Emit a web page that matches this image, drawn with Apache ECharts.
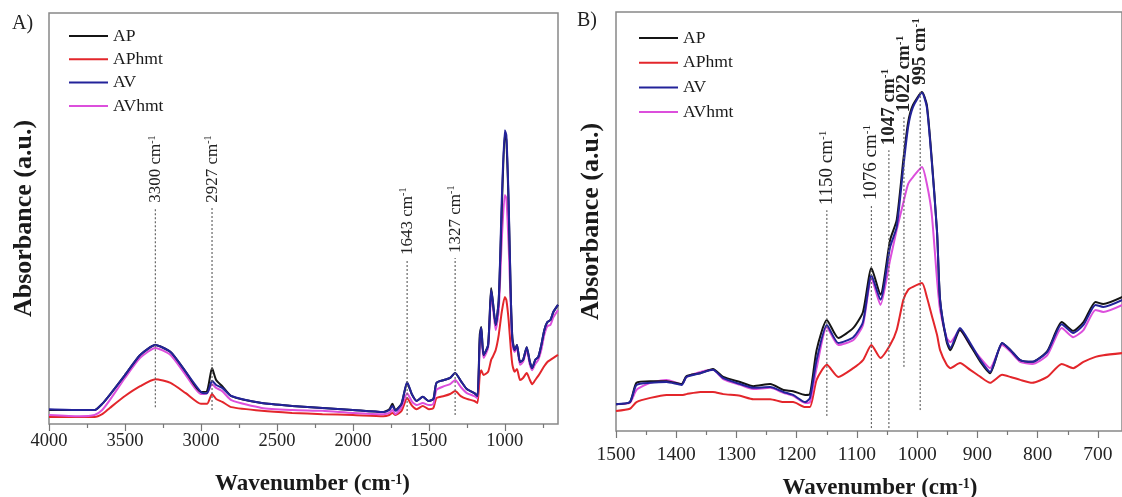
<!DOCTYPE html>
<html>
<head>
<meta charset="utf-8">
<title>FTIR spectra</title>
<script src="https://cdn.jsdelivr.net/npm/echarts@6.0.0/dist/echarts.min.js"></script>
<style>
  html, body { margin: 0; padding: 0; background: #fff; }
  #chart { width: 1122px; height: 497px; }
</style>
</head>
<body>
<div id="chart"></div>
<script>
const seriesNames = ['AP', 'APhmt', 'AV', 'AVhmt']

// panel A: full range
const leftWavenumber = [
  4000, 3800, 3700, 3650, 3600, 3500, 3400, 3300, 3200, 3100,
  3000, 2960, 2927, 2900, 2860, 2800, 2600, 2400, 2200, 2000,
  1800, 1760, 1740, 1720, 1680, 1643, 1610, 1580, 1540, 1500,
  1470, 1450, 1400, 1360, 1327, 1290, 1250, 1200, 1180, 1165,
  1155, 1140, 1110, 1090, 1080, 1060, 1040, 1020, 1000, 990,
  975, 960, 950, 935, 920, 900, 880, 856, 835, 820,
  800, 780, 760, 740, 720, 700, 680, 650
]
const leftAP = [
  .034, .034, .034, .049, .071, .119, .168, .192, .175, .127,
  .078, .080, .136, .107, .092, .068, .051, .044, .039, .034,
  .029, .036, .049, .034, .049, .100, .071, .056, .066, .056,
  .061, .100, .107, .112, .124, .105, .085, .075, .068, .217,
  .236, .168, .192, .331, .302, .241, .302, .521, .706, .691,
  .533, .302, .209, .180, .192, .151, .156, .187, .151, .136,
  .156, .163, .192, .229, .248, .253, .273, .290
]
const leftAPhmt = [
  .017, .017, .017, .024, .039, .068, .092, .109, .100, .075,
  .049, .049, .073, .061, .054, .041, .032, .027, .024, .022,
  .019, .022, .027, .022, .032, .063, .044, .036, .044, .036,
  .039, .063, .068, .073, .080, .068, .061, .056, .051, .119,
  .131, .119, .127, .156, .163, .180, .217, .273, .309, .302,
  .253, .180, .144, .127, .134, .107, .112, .124, .107, .097,
  .107, .117, .129, .141, .151, .156, .161, .168
]
const leftAV = [
  .036, .034, .034, .049, .071, .119, .168, .192, .175, .127,
  .078, .075, .105, .095, .088, .068, .051, .044, .039, .034,
  .029, .034, .044, .032, .049, .102, .071, .056, .066, .056,
  .061, .100, .107, .112, .124, .105, .085, .075, .068, .204,
  .234, .168, .192, .326, .302, .241, .302, .545, .715, .703,
  .545, .302, .204, .180, .192, .151, .156, .187, .151, .136,
  .156, .163, .192, .229, .248, .253, .273, .290
]
const leftAVhmt = [
  .022, .019, .022, .034, .058, .112, .161, .185, .168, .119,
  .073, .075, .097, .088, .080, .058, .039, .034, .032, .027,
  .024, .027, .034, .024, .041, .075, .054, .046, .051, .046,
  .049, .083, .092, .097, .107, .090, .075, .068, .063, .192,
  .221, .161, .185, .314, .290, .229, .277, .448, .557, .550,
  .436, .277, .192, .175, .185, .144, .151, .180, .144, .131,
  .146, .156, .180, .217, .238, .241, .260, .277
]

// panel B: fingerprint region
const rightWavenumber = [
  1500, 1477, 1466, 1443, 1416, 1391, 1383, 1360, 1339, 1322,
  1294, 1272, 1244, 1222, 1206, 1186, 1178, 1167, 1150, 1131,
  1106, 1090, 1076, 1061, 1045, 1034, 1023, 1015, 1007, 992,
  984, 976, 967, 962, 951, 945, 929, 912, 895, 879,
  859, 845, 829, 809, 784, 760, 741, 724, 704, 691,
  659
]
const rightAP = [
  .064, .069, .115, .119, .119, .112, .131, .138, .148, .129,
  .117, .107, .112, .098, .095, .086, .088, .193, .265, .222,
  .246, .284, .389, .325, .456, .504, .647, .737, .778, .809,
  .778, .652, .475, .313, .212, .193, .241, .205, .165, .138,
  .210, .193, .169, .165, .191, .260, .239, .260, .308, .303,
  .320
]
const rightAPhmt = [
  .048, .053, .069, .079, .086, .086, .088, .093, .093, .088,
  .084, .076, .076, .069, .069, .057, .057, .122, .158, .129,
  .150, .169, .205, .174, .205, .241, .313, .337, .344, .353,
  .320, .277, .229, .193, .158, .150, .162, .146, .129, .115,
  .134, .129, .122, .115, .129, .160, .150, .165, .177, .181,
  .186
]
const rightAV = [
  .064, .069, .110, .115, .117, .110, .129, .138, .146, .126,
  .112, .103, .105, .093, .086, .069, .079, .169, .253, .210,
  .224, .260, .372, .313, .439, .487, .630, .726, .773, .807,
  .773, .647, .473, .313, .217, .198, .246, .210, .169, .141,
  .210, .193, .169, .165, .189, .255, .234, .253, .301, .296,
  .313
]
const rightAVhmt = [
  .064, .067, .098, .115, .122, .112, .129, .141, .146, .124,
  .110, .100, .103, .091, .084, .067, .069, .150, .248, .205,
  .217, .253, .365, .301, .408, .480, .545, .590, .606, .630,
  .590, .520, .360, .289, .222, .212, .241, .205, .174, .150,
  .205, .189, .165, .160, .181, .246, .224, .241, .289, .284,
  .301
]

// peak markers: [wavenumber, bottom, top]
const leftPeaks = [[3300, .041, .526], [2927, .034, .526], [1643, .022, .399], [1327, .022, .404]]
const leftPeakLabels = ['3300', '2927', '1643', '1327']
const rightPeaks = [[1150, .036, .527], [1076, .007, .539], [1047, .007, .670], [1022, .153, .749], [995, .050, .814]]
const rightPeakLabels = ['1150', '1076', '1047', '1022', '995']
const rightPeakBold = [false, false, true, true, true]

// tick labels
const leftTicks = [4000, 3500, 3000, 2500, 2000, 1500, 1000]
const leftMinorTicks = [3750, 3250, 2750, 2250, 1750, 1250, 750]
const rightTicks = [1500, 1400, 1300, 1200, 1100, 1000, 900, 800, 700]
const rightMinorTicks = [1450, 1350, 1250, 1150, 1050, 950, 850, 750]

const colors = ['#151515', '#e3262b', '#23239a', '#dc4fdc']
const zOrder = [4, 2, 5, 3]
const serif = '"Liberation Serif", "Times New Roman", serif'

function zip(xs, ys) {
  return xs.map((x, i) => [x, ys[i]])
}

function lineSeries(name, xs, ys, axisIndex) {
  const k = seriesNames.indexOf(name)
  return {
    name: name,
    type: 'line',
    xAxisIndex: axisIndex * 2,
    yAxisIndex: axisIndex,
    data: zip(xs, ys),
    symbol: 'none',
    smooth: 0.2,
    z: zOrder[k],
    itemStyle: { color: colors[k] },
    lineStyle: { color: colors[k], width: 2 }
  }
}

function peakSeries(peaks, labels, bold, fontSize, axisIndex) {
  return {
    type: 'custom',
    xAxisIndex: axisIndex * 2,
    yAxisIndex: axisIndex,
    data: peaks,
    encode: { x: 0, y: [1, 2] },
    clip: false,
    z: 6,
    renderItem(params, api) {
      const bottom = api.coord([api.value(0), api.value(1)])
      const top = api.coord([api.value(0), api.value(2)])
      const i = params.dataIndex
      const weight = bold[i] ? 'bold' : 'normal'
      return {
        type: 'group',
        children: [{
          type: 'line',
          shape: { x1: bottom[0], y1: bottom[1], x2: top[0], y2: top[1] },
          style: { stroke: '#666', lineWidth: 1.2, lineDash: [2, 2] }
        }, {
          type: 'text',
          x: top[0],
          y: top[1] - 5,
          rotation: Math.PI / 2,
          style: {
            text: labels[i] + ' cm{sup|-1}',
            fill: '#222',
            fontFamily: serif,
            fontSize: fontSize,
            fontWeight: weight,
            align: 'left',
            verticalAlign: 'middle',
            rich: {
              sup: { fontFamily: serif, fontSize: fontSize * 0.6, fontWeight: weight, fill: '#222', verticalAlign: 'top' }
            }
          }
        }]
      }
    }
  }
}

function xAxes(gridIndex, min, max, ticks, minor, fontSize, margin, nameGap, namePad) {
  return [{
    type: 'value',
    gridIndex: gridIndex,
    position: 'bottom',
    inverse: true,
    min: min,
    max: max,
    name: 'Wavenumber (cm{sup|-1})',
    nameLocation: 'middle',
    nameGap: nameGap,
    nameTextStyle: {
      fontFamily: serif,
      fontSize: 23,
      fontWeight: 'bold',
      color: '#1a1a1a',
      padding: [0, 0, 0, namePad],
      rich: {
        sup: { fontFamily: serif, fontSize: 14, fontWeight: 'bold', color: '#1a1a1a', verticalAlign: 'top' }
      }
    },
    axisLine: { show: false },
    splitLine: { show: false },
    axisTick: { show: true, length: 7, customValues: ticks, lineStyle: { color: '#777', width: 1.2 } },
    axisLabel: {
      customValues: ticks,
      formatter: v => String(v),
      fontFamily: serif,
      fontSize: fontSize,
      color: '#222',
      margin: margin
    }
  }, {
    type: 'value',
    gridIndex: gridIndex,
    position: 'bottom',
    inverse: true,
    min: min,
    max: max,
    axisLine: { show: false },
    splitLine: { show: false },
    axisLabel: { show: false },
    axisTick: { show: true, length: 4, customValues: minor, lineStyle: { color: '#777', width: 1.2 } }
  }]
}

function yAxis(gridIndex) {
  return {
    type: 'value',
    gridIndex: gridIndex,
    min: 0,
    max: 1,
    name: 'Absorbance (a.u.)',
    nameLocation: 'middle',
    nameGap: 12,
    nameTextStyle: { fontFamily: serif, fontSize: 26, fontWeight: 'bold', color: '#1a1a1a' },
    axisLine: { show: false },
    axisTick: { show: false },
    axisLabel: { show: false },
    splitLine: { show: false }
  }
}

function legend(left, top, gap) {
  return {
    data: seriesNames,
    orient: 'vertical',
    left: left,
    top: top,
    icon: 'rect',
    itemWidth: 39,
    itemHeight: 2,
    itemGap: gap,
    selectedMode: false,
    textStyle: { fontFamily: serif, fontSize: 17.6, lineHeight: 18, color: '#1a1a1a' }
  }
}

const chart = echarts.init(document.getElementById('chart'), null, { renderer: 'canvas' })

chart.setOption({
  animation: false,
  backgroundColor: '#fff',
  grid: [
    { left: 49, top: 13, width: 509, height: 411, outerBoundsMode: 'none', show: true, borderColor: '#888', borderWidth: 1.5 },
    { left: 616, top: 12, width: 506, height: 419, outerBoundsMode: 'none', show: true, borderColor: '#888', borderWidth: 1.5 }
  ],
  xAxis: [
    ...xAxes(0, 650, 4000, leftTicks, leftMinorTicks, 18.5, 8, 49, 18),
    ...xAxes(1, 660, 1500, rightTicks, rightMinorTicks, 19.5, 14, 46, 22)
  ],
  yAxis: [yAxis(0), yAxis(1)],
  legend: [legend(64, 22, 5.3), legend(634, 24, 6.7)],
  graphic: [
    { type: 'text', left: 12, top: 14, style: { text: 'A)', fontFamily: serif, fontSize: 20, fill: '#222' } },
    { type: 'text', left: 577, top: 11, style: { text: 'B)', fontFamily: serif, fontSize: 20, fill: '#222' } }
  ],
  series: [
    lineSeries('AP', leftWavenumber, leftAP, 0),
    lineSeries('APhmt', leftWavenumber, leftAPhmt, 0),
    lineSeries('AV', leftWavenumber, leftAV, 0),
    lineSeries('AVhmt', leftWavenumber, leftAVhmt, 0),
    lineSeries('AP', rightWavenumber, rightAP, 1),
    lineSeries('APhmt', rightWavenumber, rightAPhmt, 1),
    lineSeries('AV', rightWavenumber, rightAV, 1),
    lineSeries('AVhmt', rightWavenumber, rightAVhmt, 1),
    peakSeries(leftPeaks, leftPeakLabels, [false, false, false, false], 17, 0),
    peakSeries(rightPeaks, rightPeakLabels, rightPeakBold, 19, 1)
  ]
})
</script>
</body>
</html>
